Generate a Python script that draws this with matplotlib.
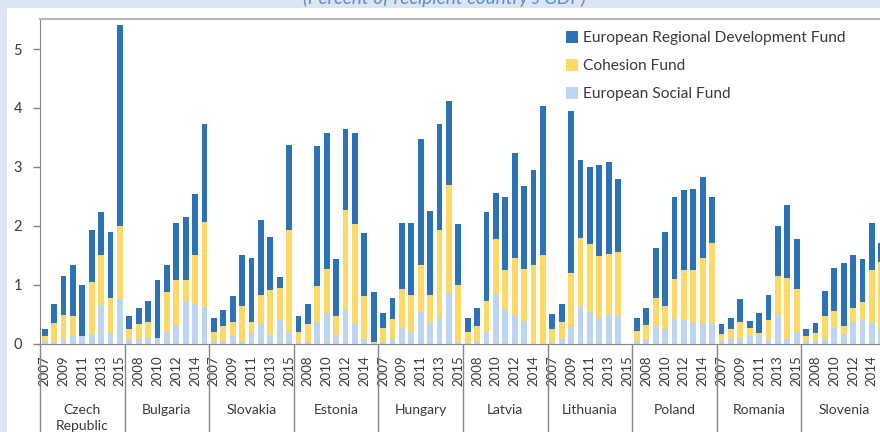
"""Plots EU structural funds by recipient country as stacked bars."""

import matplotlib
matplotlib.use('Agg')
import matplotlib.pyplot as plt
import numpy as np
from matplotlib.patches import Rectangle

countries = ['Czech\nRepublic', 'Bulgaria', 'Slovakia', 'Estonia', 'Hungary',
             'Latvia', 'Lithuania', 'Poland', 'Romania', 'Slovenia']
years = [2007, 2008, 2009, 2010, 2011, 2012, 2013, 2014, 2015]

# European Social Fund (percent of GDP), one row per country
esf = [
    [0.05, 0.03, 0.07, 0.12, 0.13, 0.16, 0.65, 0.18, 0.75],
    [0.07, 0.07, 0.10, 0.10, 0.20, 0.31, 0.73, 0.67, 0.62],
    [0.04, 0.04, 0.13, 0.04, 0.18, 0.33, 0.14, 0.40, 0.20],
    [0.02, 0.03, 0.37, 0.52, 0.14, 0.57, 0.33, 0.07, 0.00],
    [0.03, 0.07, 0.26, 0.20, 0.54, 0.37, 0.43, 0.85, 0.02],
    [0.01, 0.04, 0.20, 0.84, 0.59, 0.48, 0.38, 0.00, 0.00],
    [0.02, 0.07, 0.28, 0.63, 0.54, 0.44, 0.48, 0.46, 0.00],
    [0.04, 0.07, 0.29, 0.24, 0.43, 0.40, 0.37, 0.34, 0.34],
    [0.04, 0.07, 0.10, 0.13, 0.13, 0.07, 0.48, 0.07, 0.20],
    [0.04, 0.05, 0.07, 0.27, 0.16, 0.37, 0.41, 0.34, 0.24],
]

# Cohesion Fund
cohesion = [
    [0.08, 0.31, 0.41, 0.35, 0.00, 0.89, 0.86, 0.59, 1.25],
    [0.17, 0.26, 0.27, 0.00, 0.67, 0.77, 0.35, 0.84, 1.45],
    [0.16, 0.25, 0.24, 0.60, 0.19, 0.49, 0.77, 0.54, 1.73],
    [0.18, 0.30, 0.61, 0.75, 0.32, 1.70, 1.70, 0.74, 0.02],
    [0.24, 0.34, 0.67, 0.62, 0.80, 0.45, 1.50, 1.84, 0.98],
    [0.19, 0.26, 0.52, 0.93, 0.65, 0.98, 0.89, 1.33, 1.51],
    [0.23, 0.30, 0.91, 1.16, 1.15, 1.05, 1.04, 1.09, 0.00],
    [0.18, 0.24, 0.49, 0.39, 0.66, 0.84, 0.87, 1.11, 1.36],
    [0.12, 0.17, 0.27, 0.14, 0.05, 0.33, 0.67, 1.04, 0.72],
    [0.09, 0.13, 0.39, 0.29, 0.14, 0.24, 0.30, 0.91, 1.15],
]

# European Regional Development Fund
erdf = [
    [0.12, 0.33, 0.66, 0.86, 0.87, 0.87, 0.73, 1.13, 3.40],
    [0.22, 0.27, 0.36, 0.98, 0.46, 0.97, 1.07, 1.03, 1.66],
    [0.23, 0.28, 0.44, 0.87, 1.08, 1.28, 0.90, 0.19, 1.44],
    [0.26, 0.34, 2.38, 2.30, 0.97, 1.38, 1.54, 1.06, 0.85],
    [0.25, 0.37, 1.12, 1.23, 2.13, 1.43, 1.80, 1.43, 1.03],
    [0.23, 0.31, 1.51, 0.78, 1.25, 1.77, 1.41, 1.62, 2.52],
    [0.25, 0.30, 2.76, 1.33, 1.31, 1.54, 1.56, 1.24, 0.00],
    [0.22, 0.29, 0.85, 1.26, 1.40, 1.37, 1.39, 1.38, 0.79],
    [0.17, 0.20, 0.39, 0.12, 0.33, 0.43, 0.84, 1.24, 0.85],
    [0.12, 0.17, 0.43, 0.72, 1.06, 0.90, 0.72, 0.80, 0.31],
]

fund_labels = ['European Regional Development Fund', 'Cohesion Fund',
               'European Social Fund']


def main():
    plt.rcParams['font.family'] = ['Lato', 'DejaVu Sans']
    text_color = '#3a3a3a'
    c_erdf, c_cf, c_esf = '#2e72b6', '#ffd965', '#bdd5ee'

    fig = plt.figure(figsize=(8.8, 4.32), dpi=100, facecolor='#dce6f2')
    fig.patches.append(Rectangle((7 / 880, 0), 1, 424 / 432,
                                 transform=fig.transFigure,
                                 facecolor='white', edgecolor='none',
                                 zorder=-1))
    fig.text(444 / 880, 1 - 4 / 432, "(Percent of recipient country's GDP)",
             ha='center', va='baseline', fontsize=13.7, style='italic',
             color='#5b8bc9')

    ax = fig.add_axes([40 / 880, 88.5 / 432, 846 / 880, 324.5 / 432])
    ax.set_facecolor('none')

    n_per = len(years)
    n = len(countries) * n_per
    x = np.arange(n)
    v_esf = np.array(esf).ravel()
    v_cf = np.array(cohesion).ravel()
    v_erdf = np.array(erdf).ravel()
    width = 0.62

    b_esf = ax.bar(x, v_esf, width, color=c_esf)
    b_cf = ax.bar(x, v_cf, width, bottom=v_esf, color=c_cf)
    b_erdf = ax.bar(x, v_erdf, width, bottom=v_esf + v_cf, color=c_erdf)

    ax.set_xlim(-0.5, n - 0.5)
    ax.set_ylim(0, 5.51)
    ax.set_yticks(range(6))
    ax.tick_params(axis='y', length=5, width=1, color='#868686',
                   labelsize=10.5, labelcolor=text_color, pad=8)

    # every other year, counted across the whole category axis
    ticks = x[::2]
    ax.set_xticks(ticks)
    ax.set_xticklabels([str(years[i % n_per]) for i in ticks], rotation=90)
    ax.tick_params(axis='x', length=0, labelsize=9.5, labelcolor=text_color,
                   pad=8.5)

    ax.spines['right'].set_visible(False)
    ax.spines['top'].set_color('#b5b5b5')
    ax.spines['top'].set_linewidth(1.5)
    ax.spines['left'].set_color('#868686')
    ax.spines['bottom'].set_color('#868686')

    # group separators running down through the labels
    trans = ax.get_xaxis_transform()
    bounds = np.arange(len(countries)) * n_per - 0.5
    ax.vlines(bounds, -0.4, 0, transform=trans, colors='#868686',
              linewidth=1, clip_on=False)
    for i, name in enumerate(countries):
        ax.text(i * n_per + (n_per - 1) / 2, -0.187, name, transform=trans,
                ha='center', va='top', fontsize=10, color=text_color,
                linespacing=1.35)

    fig.legend([b_erdf, b_cf, b_esf], fund_labels, loc='upper left',
               bbox_to_anchor=(566 / 880, 1 - 31 / 432), frameon=False,
               fontsize=11.2, handlelength=0.8, handleheight=0.8,
               handletextpad=0.3, labelspacing=0.88, labelcolor=text_color,
               borderpad=0, borderaxespad=0)

    fig.savefig('out.png', dpi=100, facecolor=fig.get_facecolor())
    plt.close()


if __name__ == '__main__':
    main()
